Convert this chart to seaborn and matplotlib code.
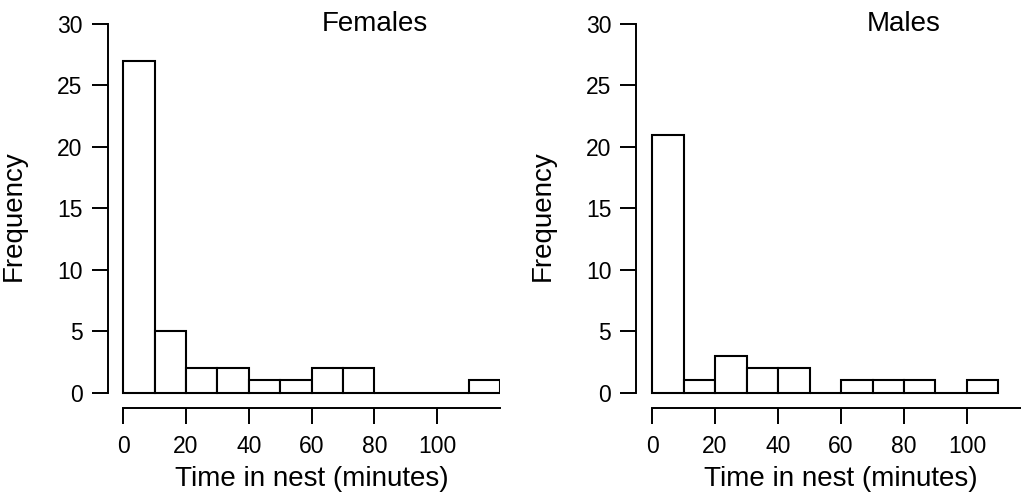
#!/usr/bin/env python3
"""Histogramas de tiempo en el nido por sexo."""

import matplotlib.pyplot as plt
import numpy as np
import seaborn as sns

# datos (frecuencia por intervalo de 10 minutos)
female_edges = [0, 10, 20, 30, 40, 50, 60, 70, 80, 90, 100, 110, 120]
female_counts = [27, 5, 2, 2, 1, 1, 2, 2, 0, 0, 0, 1]
male_edges = [0, 10, 20, 30, 40, 50, 60, 70, 80, 90, 100, 110]
male_counts = [21, 1, 3, 2, 2, 0, 1, 1, 1, 0, 1]
panels = ["Females", "Males"]
x_ticks = [0, 20, 40, 60, 80, 100]
y_ticks = [0, 5, 10, 15, 20, 25, 30]

sns.set_theme(style="ticks")
plt.rcParams["font.family"] = ["Liberation Sans", "DejaVu Sans"]
plt.rcParams["text.color"] = "black"
plt.rcParams["axes.labelcolor"] = "black"

fig = plt.figure(figsize=(10.21, 4.93), dpi=100)
ax_f = fig.add_axes([0.1053, 0.1734, 0.3844, 0.778])
ax_m = fig.add_axes([0.6232, 0.1734, 0.3856, 0.778])

series = [(ax_f, female_edges, female_counts), (ax_m, male_edges, male_counts)]

for (ax, edges, counts), name in zip(series, panels):
    mids = (np.array(edges[:-1]) + np.array(edges[1:])) / 2
    sns.histplot(
        x=mids,
        weights=counts,
        bins=edges,
        color="white",
        edgecolor="black",
        linewidth=1.5,
        alpha=1,
        ax=ax,
    )
    ax.set_xlim(-5, 120)
    ax.set_ylim(-1.2, 30)
    ax.set_xticks(x_ticks)
    ax.set_yticks(y_ticks)
    ax.tick_params(axis="both", direction="out", length=11.5, width=1.4,
                   labelsize=16.5, color="black", labelcolor="black")
    ax.tick_params(axis="x", pad=8)
    ax.tick_params(axis="y", pad=6.5)
    for side in ["top", "right"]:
        ax.spines[side].set_visible(False)
    ax.spines["left"].set_bounds(0, 30)
    ax.spines["bottom"].set_bounds(0, 120)
    for side in ["left", "bottom"]:
        ax.spines[side].set_linewidth(1.4)
        ax.spines[side].set_color("black")
    ax.set_xlabel("Time in nest (minutes)", fontsize=20)
    ax.set_ylabel("Frequency", fontsize=20)
    ax.xaxis.set_label_coords(0.52, -0.152)
    ax.yaxis.set_label_coords(-0.205, 0.5)
    ax.text(80, 30, name, fontsize=20, ha="center", va="center")
    ax.patch.set_alpha(0)

fig.savefig("out.png", dpi=100)
plt.close(fig)
